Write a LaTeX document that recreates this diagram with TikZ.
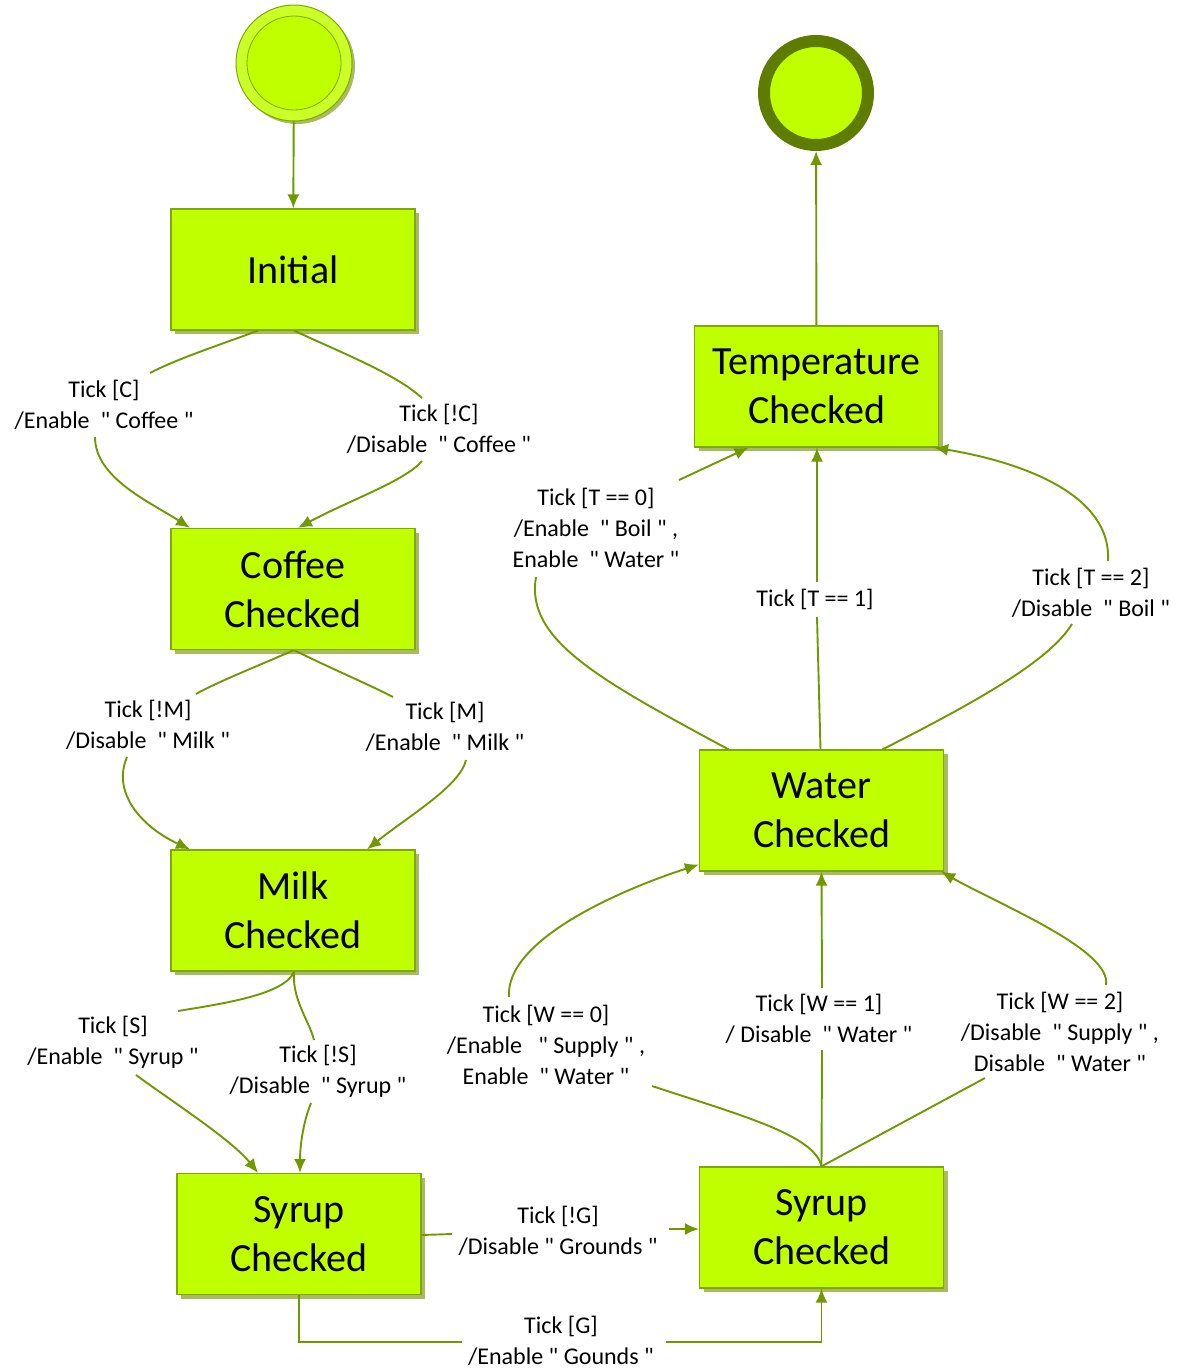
\documentclass[tikz,border=0pt]{standalone}
\usepackage{fontspec}
\setmainfont{Carlito}[Ligatures=TeXOff]
\usetikzlibrary{arrows.meta,shadows}
\definecolor{limefill}{RGB}{191,255,0}
\definecolor{lightlime}{RGB}{202,255,40}
\definecolor{boxline}{RGB}{128,168,0}
\definecolor{edgecol}{RGB}{112,152,0}
\definecolor{shadowcol}{RGB}{168,186,100}
\definecolor{ringcol}{RGB}{94,124,0}
\begin{document}
\begin{tikzpicture}[x=1pt,y=-1pt,
  statebox/.style={rectangle,draw=boxline,line width=1.2pt,fill=limefill,
    minimum width=244pt,minimum height=121pt,inner sep=0pt,align=center,
    font=\fontsize{40}{49}\selectfont,
    drop shadow={shadow xshift=4pt,shadow yshift=-4pt,fill=shadowcol,opacity=1}},
  lbl/.style={align=center,inner sep=0pt,font=\fontsize{24}{31}\selectfont},
  edge/.style={draw=edgecol,line width=1.9pt,-{Latex[length=14pt,width=12pt]}},
  seg/.style={draw=edgecol,line width=1.9pt}]
\useasboundingbox (0,0) rectangle (1181,1371);

% initial and final pseudo-states
\node[circle,draw=boxline,line width=1pt,fill=lightlime,minimum size=116pt,inner sep=0pt,
  drop shadow={shadow xshift=3pt,shadow yshift=-3pt,fill=shadowcol,opacity=1}] (start) at (294,63) {};
\node[circle,draw=boxline,line width=0.8pt,fill=limefill,minimum size=94pt,inner sep=0pt] (startin) at (294,63) {};
\node[circle,draw=ringcol,line width=12pt,fill=limefill,minimum size=104pt,inner sep=0pt,
  drop shadow={shadow xshift=3pt,shadow yshift=-3pt,fill=shadowcol,opacity=1}] (final) at (816,93) {};

% states
\node[statebox] (init) at (293,269.5) {Initial};
\node[statebox] (coffee) at (293,589) {Coffee\\Checked};
\node[statebox] (milk) at (293,910.5) {Milk\\Checked};
\node[statebox] (syrupL) at (299,1234) {Syrup\\Checked};
\node[statebox] (temp) at (816.5,386.5) {Temperature\\Checked};
\node[statebox] (water) at (821.5,810.5) {Water\\Checked};
\node[statebox] (syrupR) at (821.5,1227.5) {Syrup\\Checked};

% transition labels
\node[lbl] (lC) at (104,405) {Tick [C]\\/Enable~~" Coffee "};
\node[lbl] (lnC) at (439,429) {Tick [!C]\\/Disable~~" Coffee "};
\node[lbl] (lnM) at (148,725) {Tick [!M]\\/Disable~~" Milk "};
\node[lbl] (lM) at (445,727) {Tick [M]\\/Enable~~" Milk "};
\node[lbl] (lS) at (113,1042) {Tick [S]\\/Enable~~" Syrup "};
\node[lbl] (lnS) at (318,1071) {Tick [!S]\\/Disable~~" Syrup "};
\node[lbl] (lnG) at (558,1231) {Tick [!G]\\/Disable " Grounds "};
\node[lbl] (lG) at (561,1341) {Tick [G]\\/Enable " Gounds "};
\node[lbl] (lW0) at (546,1045) {Tick [W == 0]\\/Enable~~~" Supply " ,\\Enable~~" Water "};
\node[lbl] (lW1) at (819,1019) {Tick [W == 1]\\/ Disable~~" Water "};
\node[lbl] (lW2) at (1060,1032) {Tick [W == 2]\\/Disable~~" Supply " ,\\Disable~~" Water "};
\node[lbl] (lT0) at (596,528) {Tick [T == 0]\\/Enable~~" Boil " ,\\Enable~~" Water "};
\node[lbl] (lT1) at (815,599) {Tick [T == 1]};
\node[lbl] (lT2) at (1091,593) {Tick [T == 2]\\/Disable~~" Boil "};

% ends of connector pieces next to the labels
\coordinate (cA1) at (150,373); \coordinate (cA2) at (95,437);
\coordinate (cB1) at (422,398); \coordinate (cB2) at (422,461);
\coordinate (cC1) at (196,694); \coordinate (cC2) at (127,757);
\coordinate (cD1) at (393,697); \coordinate (cD2) at (466,760);
\coordinate (cE1) at (178,1011); \coordinate (cE2) at (136,1075);
\coordinate (cF1) at (314,1040); \coordinate (cF2) at (311,1103);
\coordinate (cG1) at (452,1234); \coordinate (cG2) at (669,1229);
\coordinate (cH1) at (462,1342); \coordinate (cH2) at (666,1342);
\coordinate (cI1) at (652,1086); \coordinate (cI2) at (509,997);
\coordinate (cJ1) at (822,1050); \coordinate (cJ2) at (822,988);
\coordinate (cK1) at (985,1078); \coordinate (cK2) at (1106,985);
\coordinate (cL1) at (536,577); \coordinate (cL2) at (679,480);
\coordinate (cM1) at (817,617); \coordinate (cM2) at (817,582);
\coordinate (cN1) at (1072,624); \coordinate (cN2) at (1108,561);

% start and end
\draw[edge] (start) -- (init);
\draw[edge] (temp) -- (final);

% Initial -> Coffee Checked
\draw[seg] ([xshift=-35pt]init.south) .. controls (228,342) and (176,359) .. (cA1);
\draw[edge] (cA2) .. controls (95,478) and (150,502) .. ([xshift=-103pt]coffee.north);
\draw[seg] ([xshift=1pt]init.south) .. controls (340,352) and (396,374) .. (cB1);
\draw[edge] (cB2) .. controls (405,481) and (350,500) .. ([xshift=5pt]coffee.north);

% Coffee Checked -> Milk Checked
\draw[seg] ([xshift=1pt]coffee.south) .. controls (260,665) and (215,683) .. (cC1);
\draw[edge] (cC2) .. controls (112,792) and (140,826) .. ([xshift=-103pt]milk.north);
\draw[seg] ([xshift=1pt]coffee.south) .. controls (330,668) and (370,685) .. (cD1);
\draw[edge] (cD2) .. controls (460,786) and (410,815) .. ([xshift=74pt]milk.north);

% Milk Checked -> Syrup Checked
\draw[seg] ([xshift=1pt]milk.south) .. controls (285,995) and (220,1004) .. (cE1);
\draw[edge] (cE2) .. controls (170,1100) and (232,1140) .. ([xshift=-41pt]syrupL.north);
\draw[seg] ([xshift=1pt]milk.south) .. controls (292,1000) and (309,1020) .. (cF1);
\draw[edge] (cF2) .. controls (302,1125) and (300,1150) .. ([xshift=1pt]syrupL.north);

% Syrup Checked -> Syrup Checked
\draw[seg] ([yshift=-1pt]syrupL.east) -- (cG1);
\draw[edge] (cG2) -- ([yshift=-1.5pt]syrupR.west);
\draw[seg] (syrupL.south) |- (cH1);
\draw[edge] (cH2) -| (syrupR.south);

% Syrup Checked -> Water Checked
\draw[seg] (syrupR.north) .. controls (815,1135) and (740,1115) .. (cI1);
\draw[edge] (cI2) .. controls (505,940) and (620,890) .. ([yshift=-54pt]water.west);
\draw[seg] (syrupR.north) -- (cJ1);
\draw[edge] (cJ2) -- (water.south);
\draw[seg] (syrupR.north) -- (cK1);
\draw[edge] (cK2) .. controls (1112,950) and (1000,905) .. ([xshift=-3pt]water.south east);

% Water Checked -> Temperature Checked
\draw[seg] ([xshift=-93pt]water.north) .. controls (600,680) and (525,640) .. (cL1);
\draw[edge] (cL2) -- ([xshift=-68pt]temp.south);
\draw[seg] ([xshift=-1pt]water.north) -- (cM1);
\draw[edge] (cM2) -- ([xshift=0.5pt]temp.south);
\draw[seg] ([xshift=61pt]water.north) .. controls (980,700) and (1050,660) .. (cN1);
\draw[edge] (cN2) .. controls (1112,490) and (1010,460) .. ([xshift=-5pt]temp.south east);
\end{tikzpicture}
\end{document}
